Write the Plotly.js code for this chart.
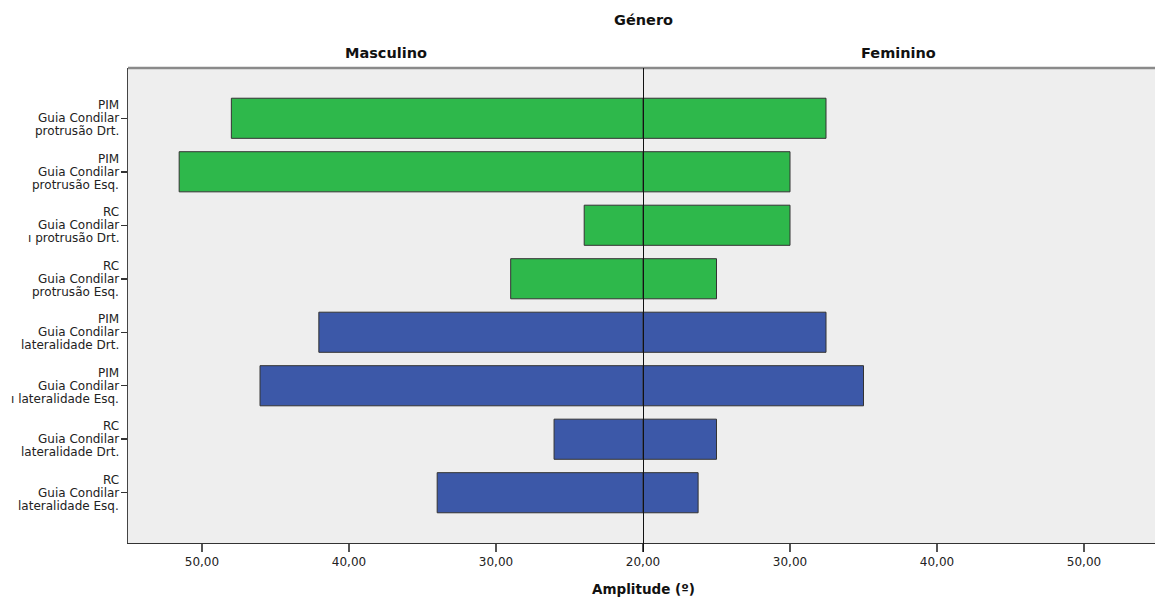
<!DOCTYPE html>
<html>
<head>
<meta charset="utf-8">
<script src="https://cdn.plot.ly/plotly-3.0.1.min.js"></script>
<style>html,body{margin:0;padding:0;background:#fff;}#chart{width:1155px;height:600px;}</style>
</head>
<body>
<div id="chart"></div>
<script>
// ---- data ----
var categories = [
  'PIM<br>Guia Condilar<br>protrusão Drt.',
  'PIM<br>Guia Condilar<br>protrusão Esq.',
  'RC<br>Guia Condilar<br>ı protrusão Drt.',
  'RC<br>Guia Condilar<br>protrusão Esq.',
  'PIM<br>Guia Condilar<br>lateralidade Drt.',
  'PIM<br>Guia Condilar<br>ı lateralidade Esq.',
  'RC<br>Guia Condilar<br>lateralidade Drt.',
  'RC<br>Guia Condilar<br>lateralidade Esq.'
];
var movement = ['protrusão','protrusão','protrusão','protrusão','lateralidade','lateralidade','lateralidade','lateralidade'];
var masculino = [48.0, 51.55, 24.0, 29.0, 42.05, 46.05, 26.05, 34.0];
var feminino  = [32.45, 30.0, 30.0, 25.0, 32.45, 35.0, 25.0, 23.75];
var axisBase = 20;
var leftTicks = [50, 40, 30, 20];
var rightTicks = [30, 40, 50];
var panelTitles = ['Masculino', 'Feminino'];

// ---- styling ----
var colorMap = {'protrusão': '#2eb84b', 'lateralidade': '#3c58a8'};
var barColors = movement.map(function(m){ return colorMap[m]; });
var idx = categories.map(function(_, i){ return i; });
var split = 515 / 1027;

function fmt(v){ return v.toFixed(2).replace('.', ','); }

var common = {
  type: 'bar', orientation: 'h', base: axisBase, y: idx, width: 0.75,
  marker: {color: barColors, line: {color: '#333333', width: 1}},
  showlegend: false, hoverinfo: 'skip'
};
var tM = Object.assign({}, common, {x: masculino.map(function(v){ return v - axisBase; }), xaxis: 'x', yaxis: 'y', name: panelTitles[0]});
var tF = Object.assign({}, common, {x: feminino.map(function(v){ return v - axisBase; }), xaxis: 'x2', yaxis: 'y', name: panelTitles[1]});

var tickFont = {family: 'DejaVu Sans, sans-serif', size: 12, color: '#222'};
var titleFont = {family: 'DejaVu Sans, sans-serif', size: 14.5, color: '#111', weight: 'bold'};
var xTitleFont = {family: 'DejaVu Sans, sans-serif', size: 13.5, color: '#111', weight: 'bold'};

var annotations = [
  {text: '<b>Género</b>', xref: 'paper', yref: 'paper', x: split, y: 1.101, xanchor: 'center', yanchor: 'middle', showarrow: false, font: titleFont},
  {text: '<b>' + panelTitles[0] + '</b>', xref: 'paper', yref: 'paper', x: split / 2, y: 1.0316, xanchor: 'center', yanchor: 'middle', showarrow: false, font: titleFont},
  {text: '<b>' + panelTitles[1] + '</b>', xref: 'paper', yref: 'paper', x: (split + 1) / 2, y: 1.0316, xanchor: 'center', yanchor: 'middle', showarrow: false, font: titleFont},
  {text: '<b>Amplitude (º)</b>', xref: 'paper', yref: 'paper', x: split, y: -0.0968, xanchor: 'center', yanchor: 'middle', showarrow: false, font: xTitleFont}
];
categories.forEach(function(c, i){
  var lines = c.split('<br>');
  lines.forEach(function(line, k){
    annotations.push({
      text: line, xref: 'paper', yref: 'y', x: 0, y: i, xshift: -7, yshift: 13 * (1 - k),
      xanchor: 'right', yanchor: 'middle', align: 'right', showarrow: false,
      font: {family: 'DejaVu Sans, sans-serif', size: 12, color: '#222'}
    });
  });
});

var layout = {
  width: 1155, height: 600,
  margin: {l: 128, r: 0, t: 68, b: 57},
  paper_bgcolor: '#ffffff', plot_bgcolor: '#eeeeee',
  bargap: 0.25,
  xaxis: {
    domain: [0, split], range: [55.03, 20], showgrid: false, zeroline: false,
    tickmode: 'array', tickvals: leftTicks, ticktext: leftTicks.map(fmt),
    ticks: 'outside', ticklen: 8, tickwidth: 2, tickcolor: '#555',
    showline: true, linecolor: '#333', linewidth: 1, tickfont: tickFont, anchor: 'y'
  },
  xaxis2: {
    domain: [split, 1], range: [20, 54.83], showgrid: false, zeroline: false,
    tickmode: 'array', tickvals: rightTicks, ticktext: rightTicks.map(fmt),
    ticks: 'outside', ticklen: 8, tickwidth: 2, tickcolor: '#555',
    showline: true, linecolor: '#333', linewidth: 1, tickfont: tickFont, anchor: 'y'
  },
  yaxis: {
    range: [7.94, -0.94], showgrid: false, zeroline: false,
    tickmode: 'array', tickvals: idx, showticklabels: false,
    ticks: 'outside', ticklen: 6, tickwidth: 1.5, tickcolor: '#333',
    showline: true, linecolor: '#444', linewidth: 1.5, anchor: 'x'
  },
  shapes: [
    {type: 'line', xref: 'paper', yref: 'paper', x0: 0, x1: 1, y0: 1, y1: 1, line: {color: '#8a8a8a', width: 2.5}},
    {type: 'line', xref: 'x2', yref: 'paper', x0: axisBase, x1: axisBase, y0: -0.019, y1: 1, line: {color: '#111', width: 2}, layer: 'above'}
  ],
  annotations: annotations
};

Plotly.newPlot('chart', [tM, tF], layout, {displayModeBar: false, staticPlot: true});
</script>
</body>
</html>
